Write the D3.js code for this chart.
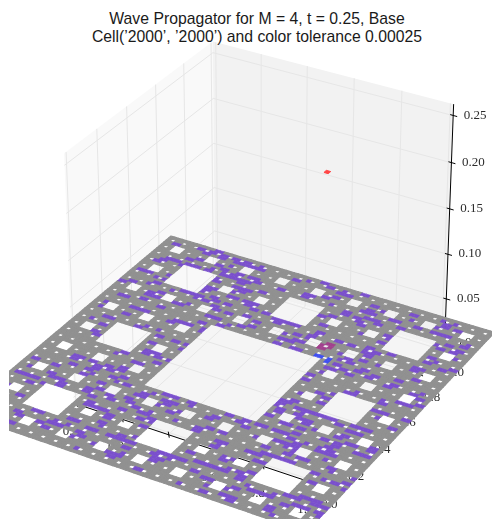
<!DOCTYPE html>
<html><head><meta charset="utf-8"><style>html,body{margin:0;background:#fff}svg{display:block}</style>
<script src="https://cdn.jsdelivr.net/npm/d3@7"></script></head><body><div id="c"></div>
<script>
const titleLines=["Wave Propagator for M = 4, t = 0.25, Base","Cell(’2000’, ’2000’) and color tolerance 0.00025"];
const xTicks=[0,0.2,0.4,0.6,0.8,1.0];
const yTicks=[0,0.2,0.4,0.6,0.8,1.0];
const zTicks=[0,0.05,0.10,0.15,0.20,0.25];
const levels=4;
const spike=[{i:54,j:54,z:0.205}];
const maroonCells=[[51,58],[53,58],[52,57],[52,59],[53,59],[51,57]];
const blueCells=[[52,54],[53,54],[55,54],[55,53]];
// purple patches: [row j, [column i ...]]; each patch is about two cells long
const patchLength=2;
const purpleRows=[
[1,[27,41,51,56,62,72]],[2,[10,34,60,62,70]],[3,[33,35,56,70]],[4,[17,24,29,36,60]],[5,[10,15,25,42,54,56,61,72,80]],
[6,[9,17,19,24,35,42,43,51,64,65,66,67,68,74,76,79]],[7,[18,21,41,42,45,63,69]],[8,[12,13,25,26,30,32,34,35,42,44,45,47,60,71,72,73,77,78,80]],
[9,[20,21,32,50,52,53,55,56,60,74,75,76,77]],[10,[27,35,57,59]],[11,[6,26,47,61]],[12,[54]],[13,[2,26,54,56]],[14,[26,34,73]],
[15,[20,22,23,24,50,60,62,80]],[16,[5,20,32,35,51,75,77,78]],[17,[8,27,34,50,51,57,59,72,79]],[18,[1,3,5,11,19,31,32,44,60,61,63,65,66]],
[19,[11,17,23,29,33,39,44,75,80]],[20,[8,10,17,22,27,46,49,59,64,67,68,74]],[21,[2,7,19,20,26,36,65]],[22,[33,38,56,63,65,72]],
[23,[18,27,28,29,34,44,60,62,64]],[24,[1,6,13,28,33,34,35,45,52,64,69,70,72]],[25,[15,21,23,24,30,39,50,62,66,69,71]],
[26,[9,13,19,32,34,38,47,51,54,55,58,60,70]],[27,[14,21,27,51,62,71,76,78]],[28,[8,14,17,18,68,71]],[29,[8,9,12,16,19,58,59,62,73,74,78]],
[30,[19,54,65,70,78]],[31,[62,71]],[32,[55,60,62]],[33,[20,21,55,59,71,73]],[34,[15,54,60,68]],[35,[16,24,54,58,60,61,62,63,64,66,71,73,74]],
[36,[54,55]],[37,[20,23,26,56]],[38,[7,20,22,78]],[39,[6,61]],[40,[56,74]],[41,[19,61]],[42,[6,26,59,72,74,79]],[43,[3,62]],[44,[19,23,26]],
[45,[5,6,13,54,64,65,72]],[46,[15,18,66,72]],[47,[54,75,76,77]],[48,[2,8,79]],[49,[56]],[50,[2,18,26,78]],
[51,[8,10,11,19,21,22,26,56,57,61,70,76]],[52,[59,60,65,71,78]],[53,[24,57,62,66]],[54,[3,4,13,28,42,46,47,63,71]],[55,[8,9,30,57,59]],
[56,[24,26,32,42,44,58,74]],[57,[8,10,15,16,34,45,47,56,61,65]],[58,[8,18,42]],[59,[0,10,24,27,34,44,47,61,72]],[60,[2,23,31,47,60,61,72,73]],
[61,[6,12,18,20,38,48,53,54,56,57,60,62]],[62,[7,14,16,18,22,25,37,39,41,42,48,60,65,77]],[63,[21,31,34,35,73,79]],[64,[6,8,18,29,30,75]],
[65,[1,3,18,24,25,28,29,30,47,61,73]],[66,[8,18,20,56]],[67,[24,62,78]],[68,[25,45,61]],[69,[18,23,25,26,47,54,73,76]],[70,[2,18,29,53,72,77]],
[71,[3,8,23,49,52,57,74]],[72,[4,6,9,11,14,18,20,22,24,49,54,56,62,77]],[73,[15,18,20,26,27,32,38,45,78]],
[74,[8,17,21,24,25,38,39,52,54,59,60,65,69,70,72]],[75,[10,15,42,53]],[76,[18,44,56,63,69]],[77,[53,70,73]],
[78,[2,10,14,18,20,22,23,24,33,44,45,46,62,70]],[79,[8,9,11,14,17,18,20,24,36,41,45,69,72]],[80,[12,39,49]]
];
const W=492,H=519;
const sx=2780,sy=2850,cx=262,cy=255;
const xN=d3.scaleLinear([-0.013,1.013],[0,1]),yN=d3.scaleLinear([-0.013,1.013],[0,1]),zN=d3.scaleLinear([-0.0065,0.262],[0,1]);
const cellX=d3.scaleLinear([0,81],[xN.invert(-0.30),xN.invert(1.13)]);
const cellY=d3.scaleLinear([0,81],[yN.invert(-0.29),yN.invert(1.16)]);
function proj(xn,yn,zn){const a=xn-.5,b=yn-.5,e=zn-.5;
 const u=.866*a+.5*b,v=-.25*a+.433*b+.866*e,n=.433*a-.75*b+.5*e,w=10-n;
 return [cx+sx*u/w,cy-sy*v/w];}
const P=(x,y,z)=>proj(xN(x),yN(y),zN(z));
const svg=d3.select("#c").append("svg").attr("width",W).attr("height",H);
const line=d3.line();
const xa=xN.domain(),ya=yN.domain(),za=zN.domain();
const panes=[
 {c:"#f9f9f9",p:[[xa[0],ya[0],za[0]],[xa[0],ya[1],za[0]],[xa[0],ya[1],za[1]],[xa[0],ya[0],za[1]]]},
 {c:"#f2f2f2",p:[[xa[0],ya[1],za[0]],[xa[1],ya[1],za[0]],[xa[1],ya[1],za[1]],[xa[0],ya[1],za[1]]]},
 {c:"#f5f5f5",p:[[xa[0],ya[0],za[0]],[xa[1],ya[0],za[0]],[xa[1],ya[1],za[0]],[xa[0],ya[1],za[0]]]}];
svg.append("g").selectAll("path").data(panes).join("path").attr("d",d=>line(d.p.map(q=>P(...q)))+"Z").attr("fill",d=>d.c);
const grid=[];
xTicks.forEach(t=>{grid.push([[t,ya[0],za[0]],[t,ya[1],za[0]],[t,ya[1],za[1]]]);});
yTicks.forEach(t=>{grid.push([[xa[1],t,za[0]],[xa[0],t,za[0]],[xa[0],t,za[1]]]);});
zTicks.forEach(t=>{grid.push([[xa[0],ya[0],t],[xa[0],ya[1],t],[xa[1],ya[1],t]]);});
svg.append("g").selectAll("path").data(grid).join("path").attr("d",d=>line(d.map(q=>P(...q)))).attr("fill","none").attr("stroke","#e6e6e6").attr("stroke-width",1);
const axes=[[[xa[0],ya[0],za[0]],[xa[1],ya[0],za[0]]],[[xa[1],ya[0],za[0]],[xa[1],ya[1],za[0]]],[[xa[1],ya[1],za[0]],[xa[1],ya[1],za[1]]]];
svg.append("g").selectAll("path").data(axes).join("path").attr("d",d=>line(d.map(q=>P(...q)))).attr("fill","none").attr("stroke","#000").attr("stroke-width",1);
const tf="'Liberation Serif',serif";
function ticks(vals,pt,t0,t1,off,fmt){
 const g=svg.append("g").style("opacity",.99);
 g.selectAll("line").data(vals).join("line").each(function(d){const p=pt(d);d3.select(this).attr("x1",p[0]+t0[0]).attr("y1",p[1]+t0[1]).attr("x2",p[0]+t1[0]).attr("y2",p[1]+t1[1]);}).attr("stroke","#000").attr("stroke-width",1);
 g.selectAll("text").data(vals).join("text").attr("x",d=>pt(d)[0]+off[0]).attr("y",d=>pt(d)[1]+off[1]).attr("text-anchor","middle").attr("dominant-baseline","middle").attr("font-family",tf).attr("font-size",13).attr("fill","#2a2a2a").text(fmt);
}
ticks(xTicks,d=>P(d,ya[0],za[0]),[0,-3],[1,3],[-6,28],d3.format(".1f"));
ticks(yTicks,d=>P(xa[1],d,za[0]),[-3,-1],[4,1],[13,23],d3.format(".1f"));
ticks(zTicks,d=>P(xa[1],ya[1],d),[-3,-1],[4,1],[22,0],d3.format(".2f"));
const defs=svg.append("defs");
defs.append("clipPath").attr("id","clip").append("rect").attr("x",9).attr("y",0).attr("width",W-9).attr("height",H);
defs.append("filter").attr("id","soft").attr("x","-5%").attr("y","-5%").attr("width","110%").attr("height","110%").append("feGaussianBlur").attr("stdDeviation",.3);
function inCarpet(i,j){for(let k=0;k<levels;k++){if(i%3===1&&j%3===1)return false;i=Math.floor(i/3);j=Math.floor(j/3);}return true;}
const colour=new Map();
const key=(i,j)=>i*100+j;
const GREY="#919191";
purpleRows.forEach(([j,is])=>is.forEach(i=>d3.range(patchLength).forEach(k=>colour.set(key(i+k,j),"#7a4fcd"))));
maroonCells.forEach(([i,j])=>colour.set(key(i,j),"#a23f8e"));
blueCells.forEach(([i,j])=>colour.set(key(i,j),"#3f4ff2"));
const isSpike=(i,j)=>spike.some(s=>s.i===i&&s.j===j);
const cells=[];for(let j=80;j>=0;j--)for(let i=0;i<81;i++)if(inCarpet(i,j)&&!isSpike(i,j))cells.push({i,j,z:0,c:colour.get(key(i,j))||GREY});
const quad=d=>line([[d.i,d.j],[d.i+1,d.j],[d.i+1,d.j+1],[d.i,d.j+1]].map(q=>P(cellX(q[0]),cellY(q[1]),d.z)))+"Z";
const gc=svg.append("g").attr("clip-path","url(#clip)").append("g").attr("filter","url(#soft)");
cells.sort((a,b)=>(a.c===GREY?0:1)-(b.c===GREY?0:1));
gc.selectAll("path.cell").data(cells).join("path").attr("class","cell").attr("d",quad).attr("fill",d=>d.c).attr("stroke",d=>d.c).attr("stroke-width",d=>d.c===GREY?1.2:.7).attr("stroke-linejoin","round");
gc.selectAll("path.spike").data(spike).join("path").attr("class","spike").attr("d",quad).attr("fill","#ff4545").attr("stroke","#ff4545").attr("stroke-width",1);
svg.append("g").selectAll("text").data(titleLines).join("text").attr("x",257).attr("y",(d,i)=>24+i*18).attr("text-anchor","middle").attr("font-family","'Liberation Sans',Arial,sans-serif").attr("font-size",15.75).attr("fill","#1a1a1a").text(d=>d);
</script></body></html>
